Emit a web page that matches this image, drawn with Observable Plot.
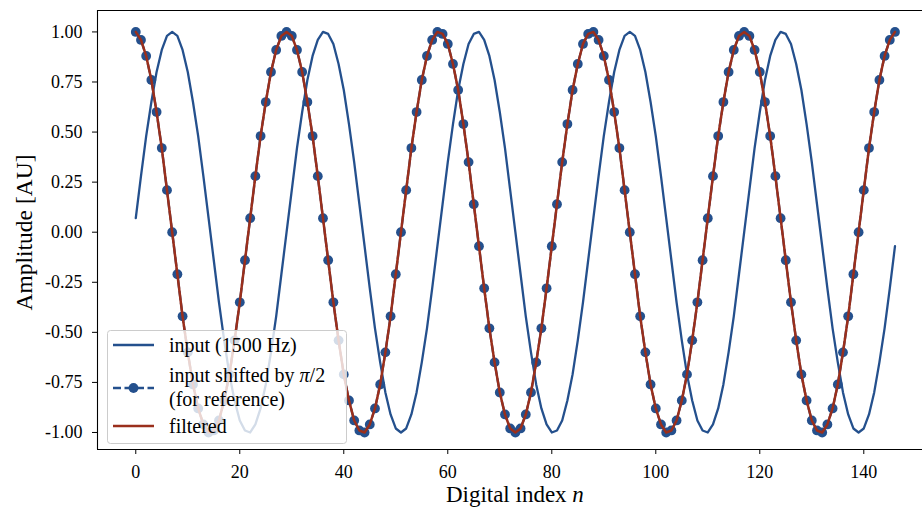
<!DOCTYPE html>
<html><head><meta charset="utf-8">
<script src="https://cdn.jsdelivr.net/npm/d3@7"></script>
<script src="https://cdn.jsdelivr.net/npm/@observablehq/plot@0.6"></script>
<style>
body{margin:0;background:#fff;}
#wrap{position:relative;width:922px;height:508px;overflow:hidden;background:#fff;}
#wrap svg{display:block;}
</style></head><body><div id="wrap"></div>
<script>
// ---- data (n = 0 .. 146) ----
const inputSignal = [
 0.07, 0.28, 0.48, 0.65, 0.80, 0.91, 0.98, 1.00, 0.98, 0.91, 0.80, 0.65, 0.48, 0.28, 0.07, -0.14, -0.35, -0.54, -0.71, -0.84, -0.94, -0.99, -1.00, -0.96, -0.88, -0.76, -0.60, -0.42, -0.21,
 0.00, 0.21, 0.42, 0.60, 0.76, 0.88, 0.96, 1.00, 0.99, 0.94, 0.84, 0.71, 0.54, 0.35, 0.14, -0.07, -0.28, -0.48, -0.65, -0.80, -0.91, -0.98, -1.00, -0.98, -0.91, -0.80, -0.65, -0.48, -0.28, -0.07,
 0.14, 0.35, 0.54, 0.71, 0.84, 0.94, 0.99, 1.00, 0.96, 0.88, 0.76, 0.60, 0.42, 0.21, 0.00, -0.21, -0.42, -0.60, -0.76, -0.88, -0.96, -1.00, -0.99, -0.94, -0.84, -0.71, -0.54, -0.35, -0.14,
 0.07, 0.28, 0.48, 0.65, 0.80, 0.91, 0.98, 1.00, 0.98, 0.91, 0.80, 0.65, 0.48, 0.28, 0.07, -0.14, -0.35, -0.54, -0.71, -0.84, -0.94, -0.99, -1.00, -0.96, -0.88, -0.76, -0.60, -0.42, -0.21,
 0.00, 0.21, 0.42, 0.60, 0.76, 0.88, 0.96, 1.00, 0.99, 0.94, 0.84, 0.71, 0.54, 0.35, 0.14, -0.07, -0.28, -0.48, -0.65, -0.80, -0.91, -0.98, -1.00, -0.98, -0.91, -0.80, -0.65, -0.48, -0.28, -0.07
];
const shiftedSignal = [
 1.00, 0.96, 0.88, 0.76, 0.60, 0.42, 0.21, 0.00, -0.21, -0.42, -0.60, -0.76, -0.88, -0.96, -1.00, -0.99, -0.94, -0.84, -0.71, -0.54, -0.35, -0.14, 0.07, 0.28, 0.48, 0.65, 0.80, 0.91, 0.98,
 1.00, 0.98, 0.91, 0.80, 0.65, 0.48, 0.28, 0.07, -0.14, -0.35, -0.54, -0.71, -0.84, -0.94, -0.99, -1.00, -0.96, -0.88, -0.76, -0.60, -0.42, -0.21, 0.00, 0.21, 0.42, 0.60, 0.76, 0.88, 0.96, 1.00,
 0.99, 0.94, 0.84, 0.71, 0.54, 0.35, 0.14, -0.07, -0.28, -0.48, -0.65, -0.80, -0.91, -0.98, -1.00, -0.98, -0.91, -0.80, -0.65, -0.48, -0.28, -0.07, 0.14, 0.35, 0.54, 0.71, 0.84, 0.94, 0.99,
 1.00, 0.96, 0.88, 0.76, 0.60, 0.42, 0.21, 0.00, -0.21, -0.42, -0.60, -0.76, -0.88, -0.96, -1.00, -0.99, -0.94, -0.84, -0.71, -0.54, -0.35, -0.14, 0.07, 0.28, 0.48, 0.65, 0.80, 0.91, 0.98,
 1.00, 0.98, 0.91, 0.80, 0.65, 0.48, 0.28, 0.07, -0.14, -0.35, -0.54, -0.71, -0.84, -0.94, -0.99, -1.00, -0.96, -0.88, -0.76, -0.60, -0.42, -0.21, 0.00, 0.21, 0.42, 0.60, 0.76, 0.88, 0.96, 1.00
];
const filteredSignal = [
 1.00, 0.96, 0.88, 0.76, 0.60, 0.42, 0.21, 0.00, -0.21, -0.42, -0.60, -0.76, -0.88, -0.96, -1.00, -0.99, -0.94, -0.84, -0.71, -0.54, -0.35, -0.14, 0.07, 0.28, 0.48, 0.65, 0.80, 0.91, 0.98,
 1.00, 0.98, 0.91, 0.80, 0.65, 0.48, 0.28, 0.07, -0.14, -0.35, -0.54, -0.71, -0.84, -0.94, -0.99, -1.00, -0.96, -0.88, -0.76, -0.60, -0.42, -0.21, 0.00, 0.21, 0.42, 0.60, 0.76, 0.88, 0.96, 1.00,
 0.99, 0.94, 0.84, 0.71, 0.54, 0.35, 0.14, -0.07, -0.28, -0.48, -0.65, -0.80, -0.91, -0.98, -1.00, -0.98, -0.91, -0.80, -0.65, -0.48, -0.28, -0.07, 0.14, 0.35, 0.54, 0.71, 0.84, 0.94, 0.99,
 1.00, 0.96, 0.88, 0.76, 0.60, 0.42, 0.21, 0.00, -0.21, -0.42, -0.60, -0.76, -0.88, -0.96, -1.00, -0.99, -0.94, -0.84, -0.71, -0.54, -0.35, -0.14, 0.07, 0.28, 0.48, 0.65, 0.80, 0.91, 0.98,
 1.00, 0.98, 0.91, 0.80, 0.65, 0.48, 0.28, 0.07, -0.14, -0.35, -0.54, -0.71, -0.84, -0.94, -0.99, -1.00, -0.96, -0.88, -0.76, -0.60, -0.42, -0.21, 0.00, 0.21, 0.42, 0.60, 0.76, 0.88, 0.96, 1.00
];
const xTicks = [0, 20, 40, 60, 80, 100, 120, 140];
const yTicks = [-1.00, -0.75, -0.50, -0.25, 0.00, 0.25, 0.50, 0.75, 1.00];
const xLabel = ["Digital index ", "n"];
const yLabel = "Amplitude [AU]";
const legendLabels = ["input (1500 Hz)", ["input shifted by ", "π", "/2"], "(for reference)", "filtered"];

// ---- styling ----
const BLUE = "#24508d", RED = "#9a2f1c";
const FONT = "'Liberation Serif', 'Times New Roman', serif";
const xDomain = [-7.36, 151.29], yDomain = [-1.085, 1.107];
const xMid = 73; // centre of the full (cropped) x axis

const plot = Plot.plot({
  width: 922, height: 508,
  marginLeft: 97, marginRight: 0, marginTop: 10, marginBottom: 59,
  style: {fontFamily: FONT, fontSize: "18px", background: "transparent", color: "#000", overflow: "visible"},
  x: {domain: xDomain},
  y: {domain: yDomain},
  marks: [
    Plot.axisX({ticks: xTicks, tickSize: 5, tickPadding: 11, tickFormat: d => String(d), label: null, fontSize: 18}),
    Plot.axisY({ticks: yTicks, tickSize: 5, tickPadding: 10, tickFormat: d => d.toFixed(2), label: null, fontSize: 18}),
    Plot.lineY(inputSignal, {x: (d, i) => i, y: d => d, stroke: BLUE, strokeWidth: 2.3}),
    Plot.lineY(shiftedSignal, {x: (d, i) => i, y: d => d, stroke: BLUE, strokeWidth: 2.3, strokeDasharray: "8,3.5"}),
    Plot.dot(shiftedSignal, {x: (d, i) => i, y: d => d, r: 4.9, fill: BLUE, stroke: "none"}),
    Plot.lineY(filteredSignal, {x: (d, i) => i, y: d => d, stroke: RED, strokeWidth: 2.5}),
    Plot.ruleX([xDomain[0]], {stroke: "#000", strokeWidth: 1.1}),
    Plot.ruleY(yDomain, {stroke: "#000", strokeWidth: 1.1})
  ]
});

const wrap = document.getElementById("wrap");
wrap.appendChild(plot);

const sx = plot.scale("x"), sy = plot.scale("y");
const svg = d3.select(plot);

// axis labels
svg.append("text")
  .attr("transform", `translate(24,${(sy.range[0] + sy.range[1]) / 2 + 3}) rotate(-90)`)
  .attr("text-anchor", "middle").attr("dominant-baseline", "central")
  .attr("font-family", FONT).attr("font-size", 23.5).attr("fill", "#000")
  .text(yLabel);
const xl = svg.append("text")
  .attr("x", sx.apply(xMid)).attr("y", 502)
  .attr("text-anchor", "middle")
  .attr("font-family", FONT).attr("font-size", 23).attr("fill", "#000");
xl.append("tspan").text(xLabel[0]);
xl.append("tspan").attr("font-style", "italic").text(xLabel[1]);

// legend (matplotlib-style box, upper left at 107,330)
const lg = svg.append("g").attr("transform", "translate(107,330)")
  .attr("font-family", FONT).attr("font-size", 20).attr("text-anchor", "start").attr("fill", "#000");
lg.append("rect").attr("x", 0.5).attr("y", 0.5).attr("width", 239).attr("height", 113).attr("rx", 3)
  .attr("fill", "#fff").attr("fill-opacity", 0.8).attr("stroke", "#cccccc").attr("stroke-width", 1);
// entry 1
lg.append("line").attr("x1", 6).attr("x2", 47).attr("y1", 15).attr("y2", 15).attr("stroke", BLUE).attr("stroke-width", 2.3);
lg.append("text").attr("x", 62).attr("y", 15).attr("text-anchor", "start").attr("dominant-baseline", "central").text(legendLabels[0]);
// entry 2
lg.append("line").attr("x1", 6).attr("x2", 47).attr("y1", 58).attr("y2", 58).attr("stroke", BLUE).attr("stroke-width", 2.3).attr("stroke-dasharray", "8,3.5");
lg.append("circle").attr("cx", 26.5).attr("cy", 58).attr("r", 4.9).attr("fill", BLUE);
const t2 = lg.append("text").attr("x", 62).attr("y", 45).attr("text-anchor", "start").attr("dominant-baseline", "central");
t2.append("tspan").text(legendLabels[1][0]);
t2.append("tspan").attr("font-style", "italic").text(legendLabels[1][1]);
t2.append("tspan").text(legendLabels[1][2]);
lg.append("text").attr("x", 62).attr("y", 69).attr("text-anchor", "start").attr("dominant-baseline", "central").text(legendLabels[2]);
// entry 3
lg.append("line").attr("x1", 6).attr("x2", 47).attr("y1", 96).attr("y2", 96).attr("stroke", RED).attr("stroke-width", 2.5);
lg.append("text").attr("x", 62).attr("y", 96).attr("text-anchor", "start").attr("dominant-baseline", "central").text(legendLabels[3]);
</script></body></html>
